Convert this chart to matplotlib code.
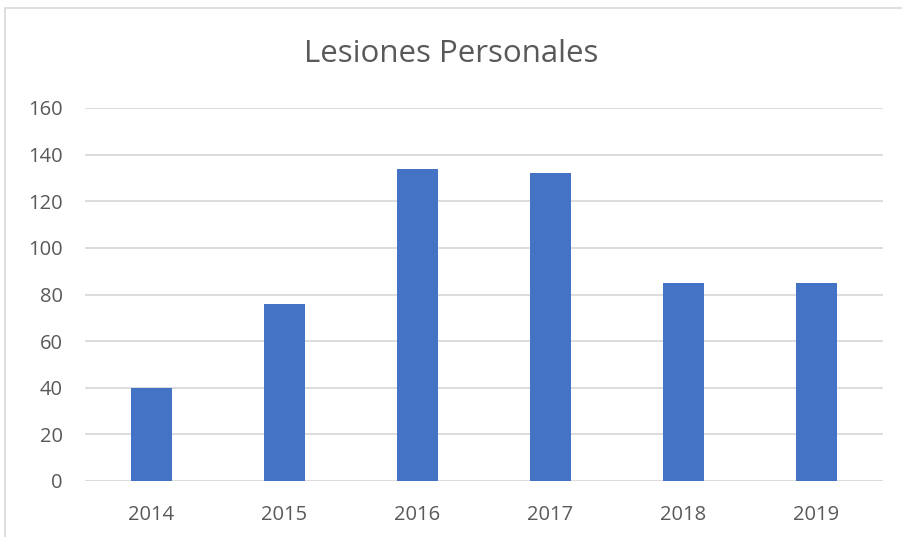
import numpy as np
import matplotlib
matplotlib.use('Agg')
import matplotlib.pyplot as plt
from matplotlib.patches import Rectangle

plt.rcParams['font.family'] = ['Open Sans', 'DejaVu Sans']

# Data
years = ['2014', '2015', '2016', '2017', '2018', '2019']
casos = [40, 76, 134, 132, 85, 85]

bar_color = '#4472C4'
text_color = '#595959'
grid_color = '#D9D9D9'

fig = plt.figure(figsize=(9.02, 5.37), dpi=100)
ax = fig.add_axes([85/902, 56/537, 798/902, 373/537])

ind = np.arange(len(years))
ax.bar(ind, casos, width=0.31, color=bar_color, zorder=3)

ax.set_xlim(-0.5, len(years) - 0.5)
ax.set_ylim(0, 160)
ax.set_yticks(np.arange(0, 161, 20))
ax.set_xticks(ind)
ax.set_xticklabels(years)
ax.tick_params(axis='both', length=0, labelsize=14.5, colors=text_color)
ax.tick_params(axis='x', pad=17)
ax.tick_params(axis='y', pad=16)
ax.grid(axis='y', color=grid_color, linewidth=1.3, zorder=0)
for s in ax.spines.values():
    s.set_visible(False)

fig.text(0.5, 1 - 54/537, 'Lesiones Personales', ha='center', va='center',
         fontsize=22.5, color=text_color)

# outer chart frame
fig.patches.append(Rectangle((5/902, -0.05), 1.2, 1 - 8/537 + 0.05,
                             transform=fig.transFigure, fill=False,
                             edgecolor='#D9D9D9', linewidth=1.2))

fig.savefig('out.png', dpi=100)
